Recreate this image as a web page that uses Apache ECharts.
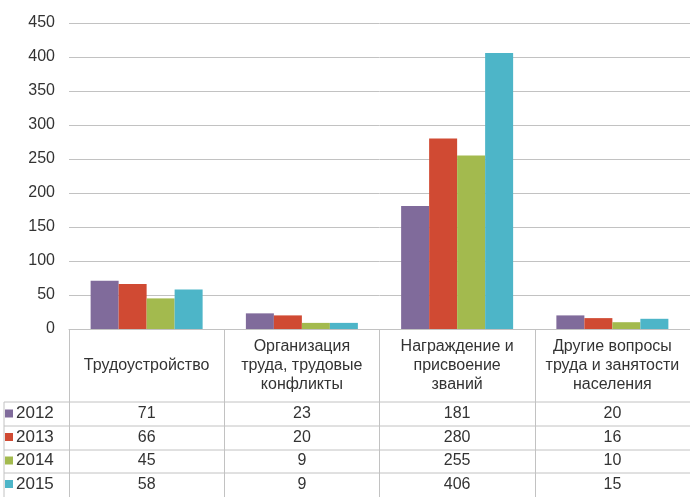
<!DOCTYPE html>
<html>
<head>
<meta charset="utf-8">
<script src="https://cdn.jsdelivr.net/npm/echarts@6/dist/echarts.min.js"></script>
<style>
  html, body { margin: 0; padding: 0; background: #fff; }
  #chart { width: 690px; height: 497px; }
</style>
</head>
<body>
<div id="chart"></div>
<script>
// категории (шапка таблицы)
const categories = [
    'Трудоустройство',
    'Организация\nтруда, трудовые\nконфликты',
    'Награждение и\nприсвоение\nзваний',
    'Другие вопросы\nтруда и занятости\nнаселения'
];
const years = ['2012', '2013', '2014', '2015'];
const values2012 = [71, 23, 181, 20];
const values2013 = [66, 20, 280, 16];
const values2014 = [45, 9, 255, 10];
const values2015 = [58, 9, 406, 15];
const colors = ['#806b9b', '#d04a33', '#a3ba4e', '#4db5c8'];

const rows = [values2012, values2013, values2014, values2015];
const font = 'Liberation Sans, Arial, sans-serif';
const textColor = '#333';
const lineColor = '#c2c2c2';

const chart = echarts.init(document.getElementById('chart'), null, { renderer: 'canvas' });

// ось категорий + четыре "строки таблицы" как доп. оси
const xAxes = [{
    type: 'category',
    data: categories,
    gridIndex: 0,
    axisLine: { show: true, lineStyle: { color: lineColor } },
    axisTick: { show: true, length: 168, interval: 0, lineStyle: { color: lineColor } },
    axisLabel: {
        interval: 0, margin: 37, verticalAlign: 'middle',
        color: textColor, fontFamily: font, fontSize: 16, lineHeight: 19
    }
}];
const rowCenters = [85, 109, 132, 156];
rows.forEach((row, i) => {
    xAxes.push({
        type: 'category',
        data: row.map(String),
        gridIndex: 0,
        position: 'bottom',
        offset: rowCenters[i],
        axisLine: { show: false },
        axisTick: { show: false },
        axisLabel: {
            interval: 0, margin: 0, verticalAlign: 'middle',
            color: textColor, fontFamily: font, fontSize: 16
        }
    });
});

const series = years.map((y, i) => ({
    name: y,
    type: 'bar',
    data: rows[i],
    barWidth: 28,
    barGap: '0%',
    itemStyle: { color: colors[i] },
    silent: true
}));

// линии таблицы
const tableLines = [];
[402, 426, 450, 473].forEach(y => {
    tableLines.push({ type: 'line', shape: { x1: 4, y1: y, x2: 690, y2: y }, style: { stroke: lineColor, lineWidth: 1 } });
});
tableLines.push({ type: 'line', shape: { x1: 4, y1: 402, x2: 4, y2: 497 }, style: { stroke: lineColor, lineWidth: 1 } });

const option = {
    animation: false,
    backgroundColor: '#fff',
    grid: { left: 69, right: -2, top: 23, bottom: 168, containLabel: false },
    legend: {
        data: years,
        orient: 'vertical',
        left: 5,
        top: 405,
        padding: 0,
        itemGap: 6.5,
        itemWidth: 8,
        itemHeight: 8,
        icon: 'rect',
        selectedMode: false,
        textStyle: { color: textColor, fontFamily: font, fontSize: 17, padding: [0, 0, 0, -2] }
    },
    xAxis: xAxes,
    yAxis: {
        type: 'value',
        min: 0,
        max: 450,
        interval: 50,
        axisLine: { show: false },
        axisTick: { show: false },
        axisLabel: { color: textColor, fontFamily: font, fontSize: 16, margin: 14 },
        splitLine: { lineStyle: { color: lineColor } }
    },
    graphic: tableLines,
    series: series
};
chart.setOption(option);
</script>
</body>
</html>
